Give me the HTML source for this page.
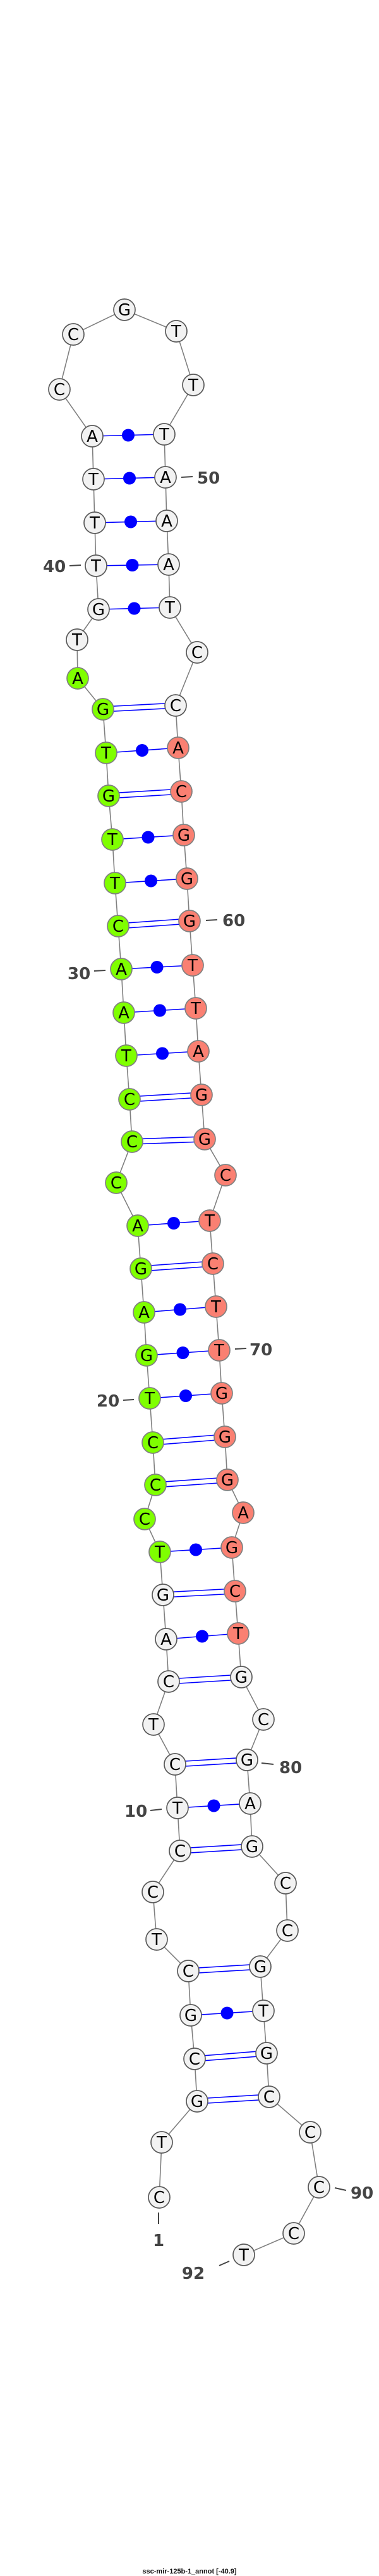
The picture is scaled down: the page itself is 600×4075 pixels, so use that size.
<!DOCTYPE html>
<html><head><meta charset="utf-8"><style>
html,body{margin:0;padding:0;background:#fff;}
svg{display:block;}
.n text{font-family:"DejaVu Sans","Liberation Sans",sans-serif;}
</style></head><body>
<svg width="600" height="4075" viewBox="0 0 600 4075" xmlns="http://www.w3.org/2000/svg">
<rect width="600" height="4075" fill="#fff"/>
<polyline fill="none" stroke="#808080" stroke-width="1.6" points="252,3476 256,3389 312,3324 308,3257 302,3188 298,3118 248,3068 242,2993 285,2928 281,2860 277,2791 243,2728 267,2660 263,2593 258,2523 253,2455 229,2403 246,2349 242,2282 237,2212 232,2144 228,2076 223,2007 218,1939 184,1871 209,1806 205,1739 200,1670 196,1602 192,1533 187,1465 182,1397 178,1328 172,1259 168,1191 163,1122 123,1073 122,1012 156,964 152,895 150,827 148,758 146,690 94,616 116,529 197,490 279,524 306,609 260,687 262,755 264,824 267,893 269,961 312,1032 278,1116 282,1183 287,1252 291,1321 296,1390 300,1457 305,1527 310,1595 314,1663 319,1732 324,1802 357,1859 332,1931 337,1999 342,2067 347,2136 351,2204 356,2273 360,2341 385,2393 367,2448 372,2517 377,2584 382,2653 417,2720 391,2784 396,2853 399,2921 452,2979 455,3054 412,3111 417,3181 422,3248 426,3317 491,3373 505,3460 465,3533 386,3567"/>
<g stroke="#0000ff" stroke-width="1.6" fill="none">
<!-- double pairs -->
<path d="M312,3320 L426,3313 M312,3328 L426,3321"/>
<path d="M308,3253 L422,3244 M308,3261 L422,3252"/>
<path d="M298,3114 L412,3107 M298,3122 L412,3115"/>
<path d="M285,2924 L399,2917 M285,2932 L399,2925"/>
<path d="M277,2787 L391,2780 M277,2795 L391,2788"/>
<path d="M267,2656 L382,2649 M267,2664 L382,2657"/>
<path d="M258,2519 L372,2513 M258,2527 L372,2521"/>
<path d="M246,2345 L360,2337 M246,2353 L360,2345"/>
<path d="M242,2278 L356,2269 M242,2286 L356,2277"/>
<path d="M223,2003 L337,1995 M223,2011 L337,2003"/>
<path d="M209,1802 L324,1798 M209,1810 L324,1806"/>
<path d="M205,1735 L319,1728 M205,1743 L319,1736"/>
<path d="M187,1461 L300,1453 M187,1469 L300,1461"/>
<path d="M172,1255 L287,1248 M172,1263 L287,1256"/>
<path d="M163,1118 L278,1112 M163,1126 L278,1120"/>
<!-- single pairs -->
<path d="M302,3188 L417,3181 M281,2860 L396,2853 M263,2593 L377,2584 M253,2455 L367,2448 M237,2212 L351,2204 M232,2144 L347,2136 M228,2076 L342,2067 M218,1939 L332,1931 M200,1670 L314,1663 M196,1602 L310,1595 M192,1533 L305,1527 M182,1397 L296,1390 M178,1328 L291,1321 M168,1191 L282,1183 M156,964 L269,961 M152,895 L267,893 M150,827 L264,824 M148,758 L262,755 M146,690 L260,687"/>
</g>
<g fill="#0000ff">
<circle cx="359.5" cy="3184.5" r="10"/><circle cx="338.5" cy="2856.5" r="10"/><circle cx="320" cy="2588.5" r="10"/><circle cx="310" cy="2451.5" r="10"/><circle cx="294" cy="2208" r="10"/><circle cx="289.5" cy="2140" r="10"/><circle cx="285" cy="2071.5" r="10"/><circle cx="275" cy="1935" r="10"/><circle cx="257" cy="1666.5" r="10"/><circle cx="253" cy="1598.5" r="10"/><circle cx="248.5" cy="1530" r="10"/><circle cx="239" cy="1393.5" r="10"/><circle cx="234.5" cy="1324.5" r="10"/><circle cx="225" cy="1187" r="10"/><circle cx="212.5" cy="962.5" r="10"/><circle cx="209.5" cy="894" r="10"/><circle cx="207" cy="825.5" r="10"/><circle cx="205" cy="756.5" r="10"/><circle cx="203" cy="688.5" r="10"/>
</g>
<!-- white nodes -->
<g stroke="#5a5a5a" stroke-width="1.7" fill="#f2f2f2">
<circle cx="252" cy="3476" r="17"/><circle cx="256" cy="3389" r="17"/><circle cx="312" cy="3324" r="17"/><circle cx="308" cy="3257" r="17"/><circle cx="302" cy="3188" r="17"/><circle cx="298" cy="3118" r="17"/><circle cx="248" cy="3068" r="17"/><circle cx="242" cy="2993" r="17"/><circle cx="285" cy="2928" r="17"/><circle cx="281" cy="2860" r="17"/><circle cx="277" cy="2791" r="17"/><circle cx="243" cy="2728" r="17"/><circle cx="267" cy="2660" r="17"/><circle cx="263" cy="2593" r="17"/><circle cx="258" cy="2523" r="17"/>
<circle cx="122" cy="1012" r="17"/><circle cx="156" cy="964" r="17"/><circle cx="152" cy="895" r="17"/><circle cx="150" cy="827" r="17"/><circle cx="148" cy="758" r="17"/><circle cx="146" cy="690" r="17"/><circle cx="94" cy="616" r="17"/><circle cx="116" cy="529" r="17"/><circle cx="197" cy="490" r="17"/><circle cx="279" cy="524" r="17"/><circle cx="306" cy="609" r="17"/><circle cx="260" cy="687" r="17"/><circle cx="262" cy="755" r="17"/><circle cx="264" cy="824" r="17"/><circle cx="267" cy="893" r="17"/><circle cx="269" cy="961" r="17"/><circle cx="312" cy="1032" r="17"/><circle cx="278" cy="1116" r="17"/>
<circle cx="382" cy="2653" r="17"/><circle cx="417" cy="2720" r="17"/><circle cx="391" cy="2784" r="17"/><circle cx="396" cy="2853" r="17"/><circle cx="399" cy="2921" r="17"/><circle cx="452" cy="2979" r="17"/><circle cx="455" cy="3054" r="17"/><circle cx="412" cy="3111" r="17"/><circle cx="417" cy="3181" r="17"/><circle cx="422" cy="3248" r="17"/><circle cx="426" cy="3317" r="17"/><circle cx="491" cy="3373" r="17"/><circle cx="505" cy="3460" r="17"/><circle cx="465" cy="3533" r="17"/><circle cx="386" cy="3567" r="17"/>
</g>
<!-- green nodes -->
<g stroke="#808080" stroke-width="1.7" fill="#7fff00">
<circle cx="253" cy="2455" r="17"/><circle cx="229" cy="2403" r="17"/><circle cx="246" cy="2349" r="17"/><circle cx="242" cy="2282" r="17"/><circle cx="237" cy="2212" r="17"/><circle cx="232" cy="2144" r="17"/><circle cx="228" cy="2076" r="17"/><circle cx="223" cy="2007" r="17"/><circle cx="218" cy="1939" r="17"/><circle cx="184" cy="1871" r="17"/><circle cx="209" cy="1806" r="17"/><circle cx="205" cy="1739" r="17"/><circle cx="200" cy="1670" r="17"/><circle cx="196" cy="1602" r="17"/><circle cx="192" cy="1533" r="17"/><circle cx="187" cy="1465" r="17"/><circle cx="182" cy="1397" r="17"/><circle cx="178" cy="1328" r="17"/><circle cx="172" cy="1259" r="17"/><circle cx="168" cy="1191" r="17"/><circle cx="163" cy="1122" r="17"/><circle cx="123" cy="1073" r="17"/>
</g>
<!-- red nodes -->
<g stroke="#808080" stroke-width="1.7" fill="#fa8072">
<circle cx="282" cy="1183" r="17"/><circle cx="287" cy="1252" r="17"/><circle cx="291" cy="1321" r="17"/><circle cx="296" cy="1390" r="17"/><circle cx="300" cy="1457" r="17"/><circle cx="305" cy="1527" r="17"/><circle cx="310" cy="1595" r="17"/><circle cx="314" cy="1663" r="17"/><circle cx="319" cy="1732" r="17"/><circle cx="324" cy="1802" r="17"/><circle cx="357" cy="1859" r="17"/><circle cx="332" cy="1931" r="17"/><circle cx="337" cy="1999" r="17"/><circle cx="342" cy="2067" r="17"/><circle cx="347" cy="2136" r="17"/><circle cx="351" cy="2204" r="17"/><circle cx="356" cy="2273" r="17"/><circle cx="360" cy="2341" r="17"/><circle cx="385" cy="2393" r="17"/><circle cx="367" cy="2448" r="17"/><circle cx="372" cy="2517" r="17"/><circle cx="377" cy="2584" r="17"/>
</g>
<g class="n" font-size="26" text-anchor="middle" fill="#000">
<text x="252" y="3485">C</text><text x="256" y="3398">T</text><text x="312" y="3333">G</text><text x="308" y="3266">C</text><text x="302" y="3197">G</text><text x="298" y="3127">C</text><text x="248" y="3077">T</text><text x="242" y="3002">C</text><text x="285" y="2937">C</text><text x="281" y="2869">T</text><text x="277" y="2800">C</text><text x="243" y="2737">T</text><text x="267" y="2669">C</text><text x="263" y="2602">A</text><text x="258" y="2532">G</text>
<text x="253" y="2464">T</text><text x="229" y="2412">C</text><text x="246" y="2358">C</text><text x="242" y="2291">C</text><text x="237" y="2221">T</text><text x="232" y="2153">G</text><text x="228" y="2085">A</text><text x="223" y="2016">G</text><text x="218" y="1948">A</text><text x="184" y="1880">C</text><text x="209" y="1815">C</text><text x="205" y="1748">C</text><text x="200" y="1679">T</text><text x="196" y="1611">A</text><text x="192" y="1542">A</text><text x="187" y="1474">C</text><text x="182" y="1406">T</text><text x="178" y="1337">T</text><text x="172" y="1268">G</text><text x="168" y="1200">T</text><text x="163" y="1131">G</text><text x="123" y="1082">A</text>
<text x="122" y="1021">T</text><text x="156" y="973">G</text><text x="152" y="904">T</text><text x="150" y="836">T</text><text x="148" y="767">T</text><text x="146" y="699">A</text><text x="94" y="625">C</text><text x="116" y="538">C</text><text x="197" y="499">G</text><text x="279" y="533">T</text><text x="306" y="618">T</text><text x="260" y="696">T</text><text x="262" y="764">A</text><text x="264" y="833">A</text><text x="267" y="902">A</text><text x="269" y="970">T</text><text x="312" y="1041">C</text><text x="278" y="1125">C</text>
<text x="282" y="1192">A</text><text x="287" y="1261">C</text><text x="291" y="1330">G</text><text x="296" y="1399">G</text><text x="300" y="1466">G</text><text x="305" y="1536">T</text><text x="310" y="1604">T</text><text x="314" y="1672">A</text><text x="319" y="1741">G</text><text x="324" y="1811">G</text><text x="357" y="1868">C</text><text x="332" y="1940">T</text><text x="337" y="2008">C</text><text x="342" y="2076">T</text><text x="347" y="2145">T</text><text x="351" y="2213">G</text><text x="356" y="2282">G</text><text x="360" y="2350">G</text><text x="385" y="2402">A</text><text x="367" y="2457">G</text><text x="372" y="2526">C</text><text x="377" y="2593">T</text>
<text x="382" y="2662">G</text><text x="417" y="2729">C</text><text x="391" y="2793">G</text><text x="396" y="2862">A</text><text x="399" y="2930">G</text><text x="452" y="2988">C</text><text x="455" y="3063">C</text><text x="412" y="3120">G</text><text x="417" y="3190">T</text><text x="422" y="3257">G</text><text x="426" y="3326">C</text><text x="491" y="3382">C</text><text x="505" y="3469">C</text><text x="465" y="3542">C</text><text x="386" y="3576">T</text>
</g>
<g stroke="#444" stroke-width="2">
<path d="M287,755 L305,754 M110,895 L128,894 M326,1456 L344,1455 M149,1536 L167,1535 M372,2134 L390,2133 M195,2215 L212,2214 M414,2789 L433,2791 M238,2864 L256,2862 M530,3461 L548,3465 M251,3500 L251,3518 M347,3584 L363,3577"/>
</g>
<g class="n" font-size="26" font-weight="bold" fill="#444">
<text x="312" y="765">50</text>
<text x="68" y="905">40</text>
<text x="352" y="1465">60</text>
<text x="107" y="1549">30</text>
<text x="395" y="2144">70</text>
<text x="153" y="2225">20</text>
<text x="442" y="2805">80</text>
<text x="197" y="2874">10</text>
<text x="555" y="3478">90</text>
<text x="251" y="3553" text-anchor="middle">1</text>
<text x="306" y="3605" text-anchor="middle">92</text>
</g>
<text x="300" y="4071" text-anchor="middle" font-family="'Liberation Sans',sans-serif" font-weight="bold" font-size="11" fill="#111">ssc-mir-125b-1_annot [-40.9]</text>
</svg>
</body></html>
